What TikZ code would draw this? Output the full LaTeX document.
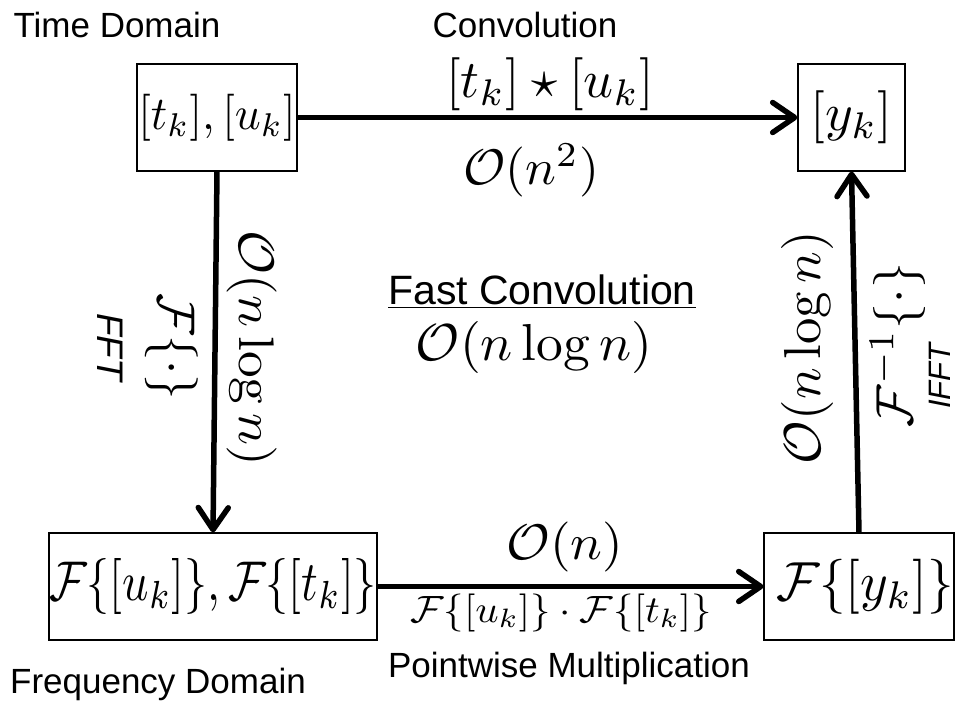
\RequirePackage{fix-cm}
\documentclass[tikz,border=0pt]{standalone}
\usepackage{graphicx}
\usepackage{fontspec}
\setsansfont{Liberation Sans}
\usetikzlibrary{arrows.meta}

% formulas are set at 10pt and enlarged: \mz{x-scale}{y-scale}{formula}
\newcommand{\mz}[3]{\scalebox{#1}[#2]{$#3$}}
\newcommand{\sansat}[1]{\sffamily\fontsize{#1}{#1}\selectfont}

\begin{document}
\begin{tikzpicture}[x=1pt,y=-1pt,
  box/.style={draw, line width=1.2pt, inner sep=0pt, minimum height=107pt},
  conn/.style={line width=5.5pt, -{Straight Barb[length=22pt, width=30pt, round]}},
  mlabel/.style={inner sep=0pt},
  tlabel/.style={inner sep=0pt, anchor=base, font=\sansat{35}}]
\useasboundingbox (0,0) rectangle (962,708);

% domain boxes
\node[box, minimum width=160pt] (tu) at (217,117.5) {\mz{4.53}{4.7}{[t_k],[u_k]}};
\node[box, minimum width=107pt] (y)  at (851.5,117.5) {\mz{5.3}{5.3}{[y_k]}};
\node[box, minimum width=328pt] (Fut) at (213,586.5) {\mz{4.61}{5.6}{\mathcal{F}\{[u_k]\},\mathcal{F}\{[t_k]\}}};
\node[box, minimum width=186pt] (Fy) at (859,586.5) {\hspace*{12pt}\mz{5.3}{5.5}{\mathcal{F}\{[y_k]\}}};

% transforms and products
\draw[conn] (tu) -- (y);
\draw[conn] (tu.south) -- (Fut.north);
\draw[conn] (Fut) -- (Fy);
\draw[conn] (Fy.north) -- (y.south);

% domain titles
\node[tlabel] (tdom) at (117,38) {Time Domain};
\node[tlabel] (fdom) at (158,693) {Frequency Domain};
\node[tlabel] (conv) at (525,38) {Convolution};
\node[tlabel] (pwm) at (569,677) {Pointwise Multiplication};

% direct convolution
\node[mlabel, anchor=base] (star) at (550,97.7) {\mz{5.23}{5.3}{[t_k]\star[u_k]}};
\node[mlabel, anchor=base] (on2) at (531,184.5) {\mz{5.13}{5.0}{\mathcal{O}(n^2)}};

% fast convolution summary
\node[tlabel, font=\sansat{41}] (fast) at (542,305) {\underline{Fast Convolution}};
\node[mlabel] (onlogn) at (534,348) {\mz{5.35}{5.2}{\mathcal{O}(n\log n)}};

% forward transform
\node[mlabel, rotate=-90] (fwdc) at (252,348.5) {\mz{5.33}{5.0}{\mathcal{O}(n\log n)}};
\node[mlabel, rotate=-90] (fwd) at (172,347) {\mz{5.1}{5.3}{\mathcal{F}\{\cdot\}}};
\node[inner sep=0pt, rotate=-90, font=\sansat{37}\itshape] (fft) at (110,347) {FFT};

% inverse transform
\node[mlabel, rotate=90] (invc) at (807.5,347.5) {\mz{5.28}{5.2}{\mathcal{O}(n\log n)}};
\node[mlabel, rotate=90] (inv) at (897.5,345) {\mz{5.18}{5.2}{\mathcal{F}^{-1}\{\cdot\}}};
\node[inner sep=0pt, rotate=90, font=\sansat{31}\itshape] (ifft) at (940,376) {IFFT};

% pointwise product
\node[mlabel] (on) at (565,547) {\mz{5.3}{5.0}{\mathcal{O}(n)}};
\node[mlabel] (prod) at (561,612.5) {\mz{4.08}{3.8}{\mathcal{F}\{[u_k]\}\cdot\mathcal{F}\{[t_k]\}}};
\end{tikzpicture}
\end{document}
